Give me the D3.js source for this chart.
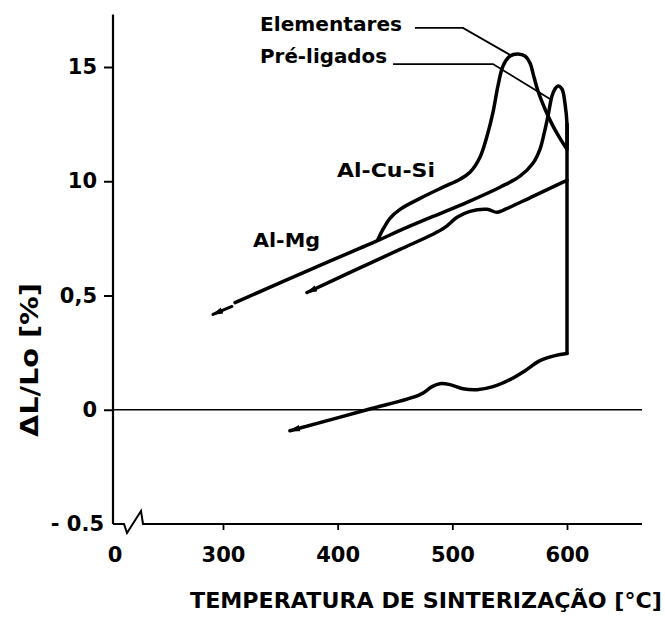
<!DOCTYPE html>
<html><head><meta charset="utf-8">
<script src="https://cdn.jsdelivr.net/npm/d3@7"></script>
<style>
body{margin:0;background:#fff}
svg{display:block}
text{font-family:"DejaVu Sans",sans-serif;font-weight:bold;fill:#000}
</style>
</head><body>
<svg id="c" width="665" height="621"></svg>
<script>
// ---------- data (temperature °C, ΔL/Lo %) ----------
// Al-Cu-Si, elementares (branch with high peak)
const elemT = [435.2,439.5,445.6,454.4,471.8,491.9,506.7,515.4,524.1,530.2,535.5,539.8,544.2,550.3,557.3,563.4,567.7,571.2,574.7,580.8,587.8,594.8,600];
const elemV = [0.746,0.789,0.838,0.877,0.925,0.974,1.009,1.039,1.105,1.197,1.303,1.417,1.504,1.548,1.557,1.548,1.518,1.456,1.395,1.316,1.241,1.180,1.140];
// pré-ligados (long straight line with peak near 590 °C)
const preT = [310.5,384.6,435.2,454.4,483.1,512.8,541.6,559.0,570.3,576.4,579.9,583.4,586.9,589.5,592.1,595.6,598.3,600,600];
const preV = [0.469,0.632,0.741,0.785,0.846,0.908,0.974,1.022,1.079,1.140,1.206,1.285,1.373,1.404,1.417,1.404,1.338,1.250,1.140];
const preArrowT = [307.8,291.3];
const preArrowV = [0.452,0.417];
// Al-Mg (lower line with small bump)
const almgT = [373.3,410.8,454.4,483.1,493.6,504.1,515.4,530.2,538.9,544.2,570.3,596.5,600];
const almgV = [0.513,0.601,0.702,0.768,0.798,0.842,0.868,0.877,0.864,0.873,0.934,0.996,1.004];
// isothermal drop at 600 °C
const holdT = [600,600];
const holdV = [1.250,0.246];
// final curve near zero
const lowT = [600,589.5,576.4,563.4,550.3,535.5,521.5,509.3,498.0,489.2,482.3,471.8,425.6,358.4];
const lowV = [0.246,0.237,0.215,0.171,0.132,0.101,0.088,0.092,0.110,0.114,0.101,0.066,0.0,-0.092];
// leader lines
const leadElemT = [467.4,509.3,550.3];
const leadElemV = [1.671,1.671,1.553];
const leadPreT = [448.3,535.5,585.2];
const leadPreV = [1.513,1.513,1.360];
// labels
const labelTexts = ["Elementares","Pré-ligados","Al-Cu-Si","Al-Mg"];
const labelT = [332.3,332.3,399.4,326.2];
const labelV = [1.658,1.518,1.018,0.711];
const labelLen = [142,127,98,67];
// axes
const xTickValues = [300,400,500,600];
const xTickLabels = ["300","400","500","600"];
const yTickValues = [-0.5,0,0.5,1.0,1.5];
const yTickLabels = ["- 0.5","0","0,5","10","15"];
const xTitle = "TEMPERATURA DE SINTERIZAÇÃO [°C]";
const yTitle = "ΔL/Lo [%]";

// ---------- scales ----------
const x = d3.scaleLinear().domain([300,600]).range([223,567]);
const y = d3.scaleLinear().domain([-0.5,1.5]).range([524,67]);
const xOrigin = 113, xEnd = 642, yTop = 1.73;

const svg = d3.select("#c");
const defs = svg.append("defs");
defs.append("marker").attr("id","ah").attr("viewBox","0 0 12 8")
  .attr("refX",10).attr("refY",4).attr("markerWidth",12).attr("markerHeight",8)
  .attr("markerUnits","userSpaceOnUse").attr("orient","auto-start-reverse")
  .append("path").attr("d","M0,0.8 L12,4 L0,7.2 Z").attr("fill","#000");

const zip = (T,V) => T.map((t,i)=>({t, v:V[i]}));
const line = d3.line().x(d=>x(d.t)).y(d=>y(d.v)).curve(d3.curveCatmullRom.alpha(0.5));
const lineStraight = d3.line().x(d=>x(d.t)).y(d=>y(d.v));

// axes lines
svg.append("line").attr("x1",xOrigin).attr("x2",xOrigin).attr("y1",y(yTop)).attr("y2",y(-0.5))
  .attr("stroke","#000").attr("stroke-width",2.2);
const y0 = y(-0.5);
svg.append("path")
  .attr("d",`M${xOrigin},${y0} H${xOrigin+11} L${xOrigin+14},${y0+9} L${xOrigin+28},${y0-13} L${xOrigin+30},${y0} H${xEnd}`)
  .attr("fill","none").attr("stroke","#000").attr("stroke-width",2).attr("stroke-linejoin","miter");
// zero line
svg.append("line").attr("x1",xOrigin).attr("x2",xEnd).attr("y1",y(0)).attr("y2",y(0))
  .attr("stroke","#000").attr("stroke-width",1.7);

// y axis ticks
const yAxis = d3.axisLeft(y).tickValues(yTickValues)
  .tickFormat((d,i)=>yTickLabels[i]).tickSize(9).tickPadding(7);
const gy = svg.append("g").attr("transform",`translate(${xOrigin},0)`).call(yAxis);
gy.select(".domain").remove();
gy.selectAll(".tick line").attr("stroke","#000").attr("stroke-width",2);
gy.selectAll(".tick text").attr("font-size",21).attr("font-family","DejaVu Sans").attr("font-weight","bold").attr("fill","#000");
gy.selectAll(".tick").filter(d=>d===-0.5).each(function(){
  d3.select(this).select("line").remove();
  d3.select(this).select("text").attr("x",-9);
});

// x axis ticks
const xAxis = d3.axisBottom(x).tickValues(xTickValues)
  .tickFormat((d,i)=>xTickLabels[i]).tickSize(6).tickPadding(17);
const gx = svg.append("g").attr("transform",`translate(0,${y0})`).call(xAxis);
gx.select(".domain").remove();
gx.selectAll(".tick line").attr("stroke","#000").attr("stroke-width",1.8);
gx.selectAll(".tick text").attr("font-size",21).attr("font-family","DejaVu Sans").attr("font-weight","bold").attr("fill","#000");
svg.append("text").attr("x",xOrigin+2).attr("y",y0+23).attr("dy","0.71em")
  .attr("text-anchor","middle").attr("font-size",21).text("0");

// titles
svg.append("text").attr("x",190).attr("y",608).attr("font-size",22)
  .attr("textLength",472).attr("lengthAdjust","spacingAndGlyphs").text(xTitle);
svg.append("text").attr("transform","translate(38,360) rotate(-90)")
  .attr("text-anchor","middle").attr("font-size",24)
  .attr("textLength",154).attr("lengthAdjust","spacingAndGlyphs").text(yTitle);

// leader lines
[[leadElemT,leadElemV],[leadPreT,leadPreV]].forEach(([T,V])=>{
  svg.append("path").attr("d",lineStraight(zip(T,V)))
    .attr("fill","none").attr("stroke","#000").attr("stroke-width",1.8);
});

// curves
const curveStyle = sel => sel.attr("fill","none").attr("stroke","#000")
  .attr("stroke-width",3.5).attr("stroke-linejoin","round").attr("stroke-linecap","round");
svg.append("path").attr("d",line(zip(preT,preV))).call(curveStyle);
svg.append("path").attr("d",line(zip(elemT,elemV))).call(curveStyle);
svg.append("path").attr("d",line(zip(almgT,almgV))).call(curveStyle).attr("marker-start","url(#ah)");
svg.append("path").attr("d",lineStraight(zip(holdT,holdV))).call(curveStyle);
svg.append("path").attr("d",line(zip(lowT,lowV))).call(curveStyle).attr("marker-end","url(#ah)");
svg.append("path").attr("d",lineStraight(zip(preArrowT,preArrowV))).call(curveStyle)
  .attr("stroke-width",3).attr("marker-end","url(#ah)");

// labels
labelTexts.forEach((s,i)=>{
  svg.append("text").attr("x",x(labelT[i])).attr("y",y(labelV[i]))
    .attr("font-size",20).attr("textLength",labelLen[i]).attr("lengthAdjust","spacingAndGlyphs").text(s);
});
</script>
</body></html>
